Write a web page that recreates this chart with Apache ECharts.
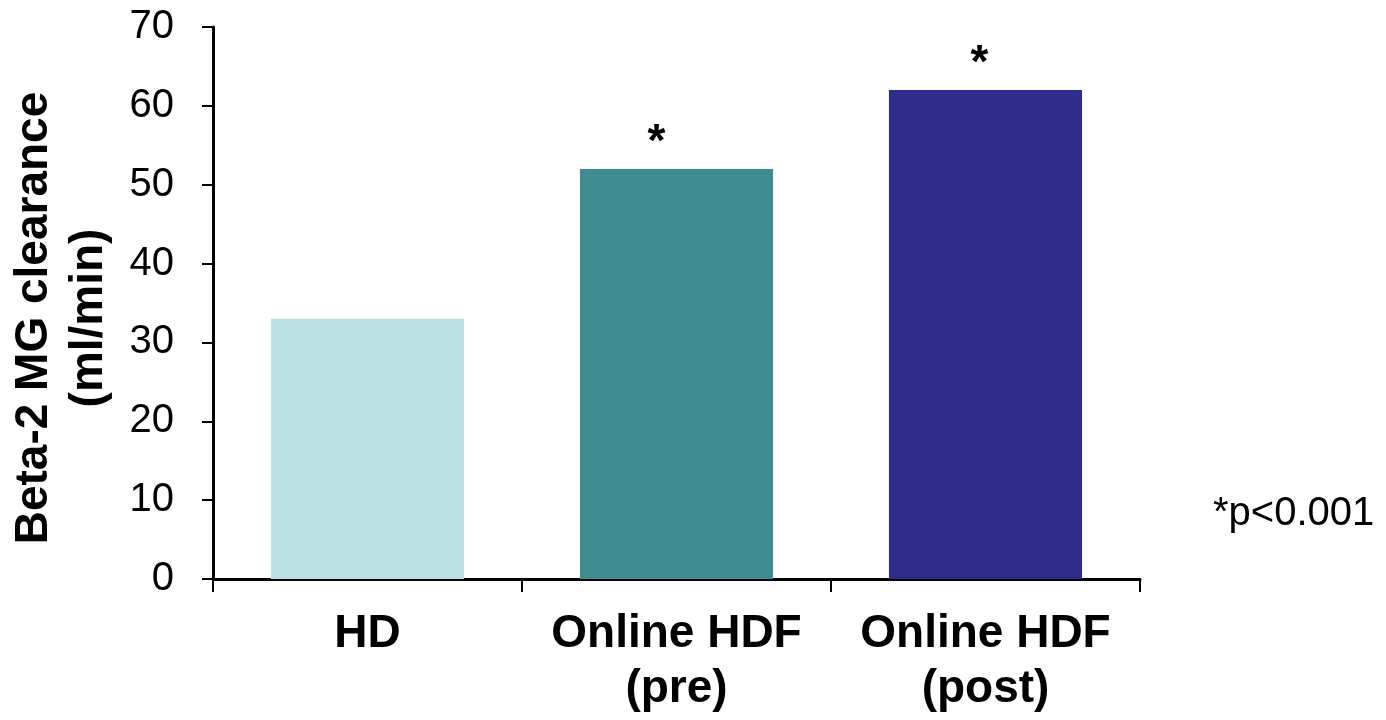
<!DOCTYPE html>
<html>
<head>
<meta charset="utf-8">
<style>
  html, body { margin: 0; padding: 0; background: #fff; }
  #chart { width: 1386px; height: 720px; }
</style>
<script src="https://cdn.jsdelivr.net/npm/echarts@6/dist/echarts.min.js"></script>
</head>
<body>
<div id="chart"></div>
<script>
// Beta-2 microglobulin clearance by dialysis modality
const categories = ['HD', 'Online HDF\n(pre)', 'Online HDF\n(post)'];
const clearance = [33, 52, 62];
const significance = ['', '*', '*'];
const yTicks = { min: 0, max: 70, interval: 10 };
const yTitle = 'Beta-2 MG clearance\n(ml/min)';
const footnote = '*p<0.001';

// Styling
const barColors = ['#BAE0E3', '#3E8C91', '#2E2E8A'];
const markerOffsets = [[0, 0], [-20, -7], [-6, -7]];
const FONT = '"Liberation Sans", Arial, Helvetica, sans-serif';

const chart = echarts.init(document.getElementById('chart'), null, { renderer: 'canvas' });

const barData = clearance.map((v, i) => ({
  value: v,
  itemStyle: { color: barColors[i] },
  label: {
    show: significance[i] !== '',
    formatter: significance[i],
    offset: markerOffsets[i]
  }
}));

chart.setOption({
  animation: false,
  backgroundColor: '#ffffff',
  grid: { left: 213, right: 246, top: 27, bottom: 141, containLabel: false },
  xAxis: {
    type: 'category',
    data: categories,
    axisLine: { show: true, lineStyle: { color: '#000', width: 3 } },
    axisTick: { show: true, interval: 0, alignWithLabel: false, length: 13, lineStyle: { color: '#000', width: 2 } },
    axisLabel: {
      interval: 0,
      margin: 28,
      color: '#000',
      fontFamily: FONT,
      fontWeight: 'bold',
      fontSize: 46,
      lineHeight: 55
    },
    splitLine: { show: false }
  },
  yAxis: {
    type: 'value',
    min: yTicks.min,
    max: yTicks.max,
    interval: yTicks.interval,
    axisLine: { show: true, lineStyle: { color: '#000', width: 3 } },
    axisTick: { show: true, length: 11, lineStyle: { color: '#000', width: 2 } },
    axisLabel: {
      margin: 39,
      color: '#000',
      fontFamily: FONT,
      fontSize: 40
    },
    splitLine: { show: false }
  },
  series: [{
    type: 'bar',
    data: barData,
    barWidth: '62.5%',
    label: {
      position: 'top',
      distance: -4,
      color: '#000',
      fontFamily: FONT,
      fontWeight: 'bold',
      fontSize: 46
    }
  }],
  graphic: [{
    // rotated two-line y-axis title
    type: 'text',
    x: 62,
    y: 318,
    rotation: Math.PI / 2,
    style: {
      text: yTitle,
      fill: '#000',
      font: 'bold 46px ' + FONT,
      lineHeight: 55,
      align: 'center',
      verticalAlign: 'middle'
    }
  }, {
    type: 'text',
    left: 1213,
    top: 494,
    style: {
      text: footnote,
      fill: '#000',
      font: '40px ' + FONT
    }
  }]
});
</script>
</body>
</html>
